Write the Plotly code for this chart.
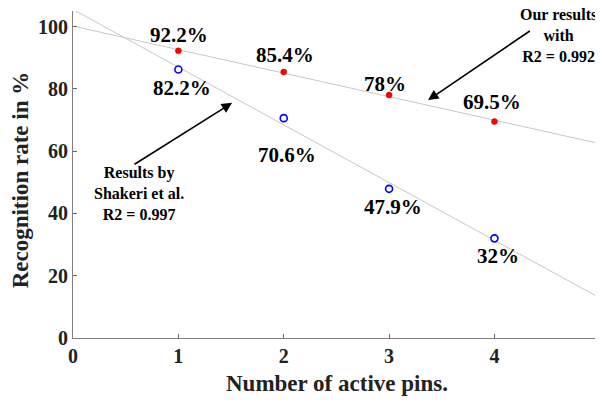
import numpy as np
import plotly.graph_objects as go

pins = [1, 2, 3, 4]
ours = [92.2, 85.4, 78.0, 69.5]
shakeri = [86.2, 70.6, 47.9, 32.0]
ours_labels = ["92.2%", "85.4%", "78%", "69.5%"]
shakeri_labels = ["82.2%", "70.6%", "47.9%", "32%"]
x_ticks = [0, 1, 2, 3, 4, 5]
y_ticks = [0, 20, 40, 60, 80, 100]

xl = np.array([0, 5])
p_ours = np.polyfit(pins, ours, 1)
p_sh = np.polyfit(pins, shakeri, 1)

FONT = "Liberation Serif"
fig = go.Figure()
fig.add_trace(go.Scatter(x=xl, y=np.polyval(p_ours, xl), mode="lines",
                         line=dict(color="#c8c8c8", width=1), showlegend=False, hoverinfo="skip"))
fig.add_trace(go.Scatter(x=xl, y=np.polyval(p_sh, xl), mode="lines",
                         line=dict(color="#c8c8c8", width=1), showlegend=False, hoverinfo="skip"))
fig.add_trace(go.Scatter(x=pins, y=ours, mode="markers",
                         marker=dict(color="red", size=6, symbol="circle",
                                     line=dict(color="#cc0000", width=0.5)), showlegend=False))
fig.add_trace(go.Scatter(x=pins, y=shakeri, mode="markers",
                         marker=dict(color="white", size=7, symbol="circle",
                                     line=dict(color="blue", width=1.6)), showlegend=False))

# label anchor positions (data coords) for each percentage label
ours_lab_y = [97.3, 90.9, 81.6, 75.8]
ours_lab_x = [1.01, 2.01, 2.96, 3.98]
sh_lab_y = [80.3, 58.7, 42.2, 26.2]
sh_lab_x = [1.03, 2.03, 3.04, 4.03]

bold = dict(family=FONT, size=21, color="black", weight="bold")
ann = []
for x, y, t in zip(ours_lab_x, ours_lab_y, ours_labels):
    ann.append(dict(x=x, y=y, text=t, showarrow=False, font=bold))
for x, y, t in zip(sh_lab_x, sh_lab_y, shakeri_labels):
    ann.append(dict(x=x, y=y, text=t, showarrow=False, font=bold))

small = dict(family=FONT, size=16, color="black", weight="bold")
ann.append(dict(x=4.61, y=97.0, text="Our results<br>with<br>R2 = 0.992", showarrow=False,
                font=small, align="center"))
ann.append(dict(x=0.63, y=46.3, text="Results by<br>Shakeri et al.<br>R2 = 0.997", showarrow=False,
                font=small, align="center"))
# arrows
ann.append(dict(x=1.51, y=75.5, ax=0.57, ay=55.5, axref="x", ayref="y", xref="x", yref="y",
                showarrow=True, arrowhead=2, arrowsize=1.3, arrowwidth=1.6, arrowcolor="black", text=""))
ann.append(dict(x=3.37, y=76.4, ax=4.35, ay=98.9, axref="x", ayref="y", xref="x", yref="y",
                showarrow=True, arrowhead=2, arrowsize=1.3, arrowwidth=1.6, arrowcolor="black", text=""))
# axis titles
title_font = dict(family=FONT, size=23, color="#222", weight="bold")
ann.append(dict(x=0.5, y=-0.14, xref="paper", yref="paper", xanchor="center", yanchor="middle",
                text="Number of active pins.", showarrow=False, font=title_font))
ann.append(dict(x=-0.1, y=0.483, xref="paper", yref="paper", xanchor="center", yanchor="middle",
                text="Recognition rate in %", showarrow=False, font=title_font, textangle=-90))

# the page places the figure 8px from its top-left corner
fig.update_layout(
    width=603, height=400,
    margin=dict(l=65, r=11, t=3, b=70),
    plot_bgcolor="white", paper_bgcolor="white",
    font=dict(family=FONT, color="black"),
    annotations=ann,
)
tickfont = dict(family=FONT, size=20, color="#222", weight="bold")
fig.update_xaxes(range=[0, 5.002], tickvals=x_ticks, ticks="inside", ticklen=4,
                 tickcolor="#666", showline=True, linecolor="#808080", linewidth=1,
                 showgrid=False, zeroline=False, automargin=False, ticklabeloverflow="allow",
                 tickfont=tickfont)
fig.update_yaxes(range=[0, 105], tickvals=y_ticks, ticks="inside", ticklen=4,
                 tickcolor="#666", showline=True, linecolor="#808080", linewidth=1,
                 showgrid=False, zeroline=False, automargin=False, ticklabeloverflow="allow",
                 tickfont=tickfont)
fig.write_html("out.html")
